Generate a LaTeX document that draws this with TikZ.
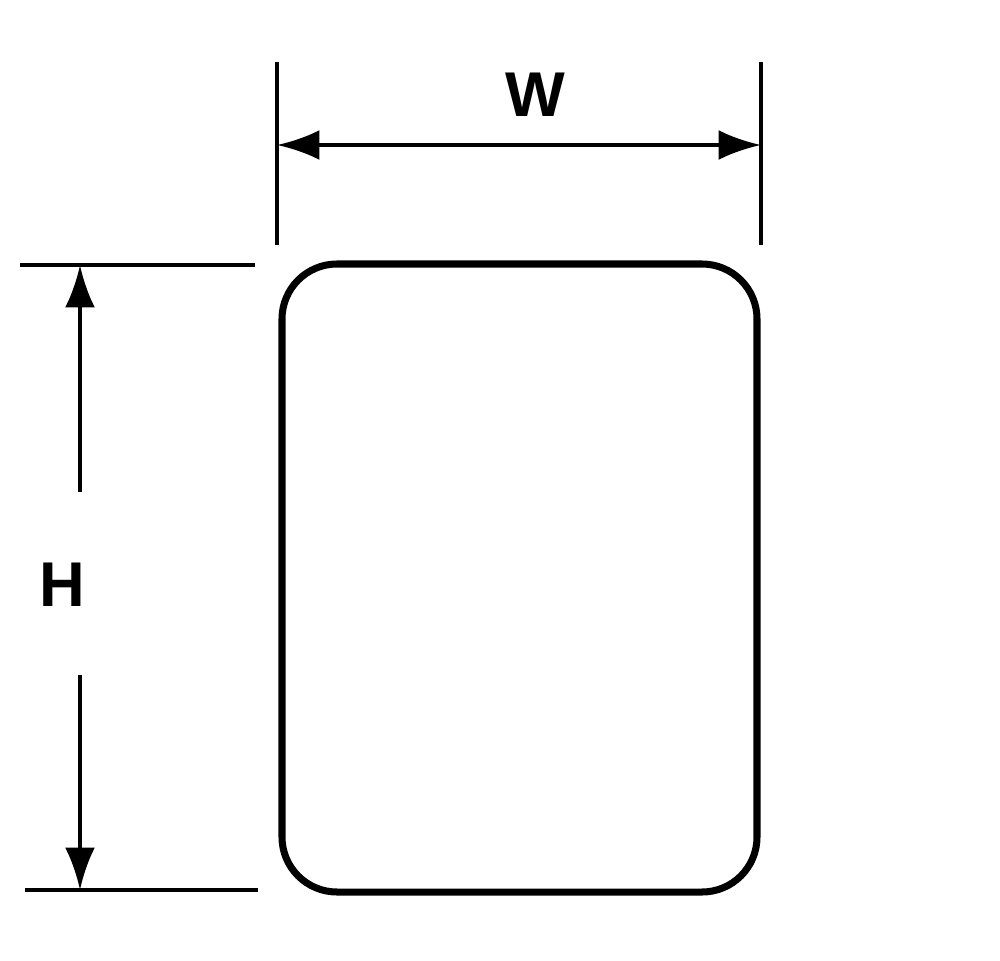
\documentclass[tikz,border=0pt]{standalone}
\usepackage{fontspec}
\setmainfont{Liberation Sans}
\usetikzlibrary{arrows.meta}

\begin{document}
\begin{tikzpicture}[x = 0.02cm, y = -0.02cm, > = {Latex[length = 0.85cm, width = 0.6cm]}]

	% Page frame

	\useasboundingbox (0, 0) rectangle (1000, 960);

	% The label outline

	\draw [line width = 4pt, rounded corners = 1.1cm] (282, 264) rectangle (757, 892);

	% Extension lines

	\begin{scope}[line width = 2.3pt]

		\draw (277, 62) -- (277, 245);
		\draw (761, 62) -- (761, 245);

		\draw (20, 265) -- (255, 265);
		\draw (25, 890) -- (258, 890);

	\end{scope}

	% Dimension arrows

	\coordinate (wL) at (277, 145);
	\coordinate (wR) at (761, 145);
	\coordinate (hT) at (80, 265);
	\coordinate (hB) at (80, 890);
	\coordinate (hU) at (80, 492);
	\coordinate (hD) at (80, 675);

	\begin{scope}[line width = 2.3pt]

		\draw [<->] (wL) -- (wR);
		\draw [<-] (hT) -- (hU);
		\draw [->] (hD) -- (hB);

	\end{scope}

	% Labels

	\node (W) at (535, 95) {\fontsize{36}{36}\selectfont\bfseries W};
	\node (H) at (62, 585) {\fontsize{36}{36}\selectfont\bfseries H};

\end{tikzpicture}
\end{document}
